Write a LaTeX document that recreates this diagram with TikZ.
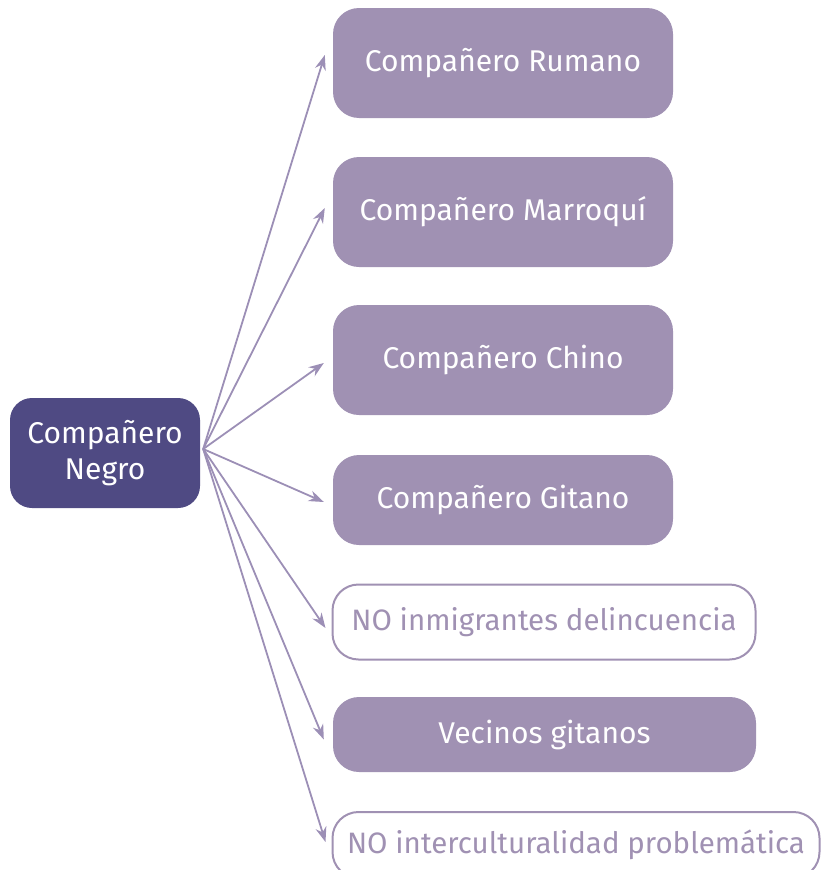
\documentclass[tikz,border=0pt]{standalone}
\usepackage{fontspec}
\setmainfont{Fira Sans}
\usetikzlibrary{arrows.meta,calc}
\definecolor{dark}{HTML}{4F4A83}
\definecolor{lav}{HTML}{A091B3}
\definecolor{lavline}{HTML}{9C8FB6}
\tikzset{
  srcbox/.style={draw=none,fill=dark,rounded corners=22pt,text=white,align=center,inner sep=0pt,font=\fontsize{30}{36}\selectfont},
  fullbox/.style={draw=none,fill=lav,rounded corners=26pt,text=white,inner sep=0pt,font=\fontsize{30}{36}\selectfont},
  emptybox/.style={draw=lav,line width=2pt,fill=white,rounded corners=26pt,text=lav,inner sep=0pt,font=\fontsize{29.5}{36}\selectfont},
  conn/.style={draw=lavline,line width=1.8pt,-{Stealth[length=15pt,width=11pt]}}
}
\begin{document}
\begin{tikzpicture}[x=1pt,y=-1pt]
\useasboundingbox (0,0) rectangle (821,870);
\begin{scope}
\clip (0,0) rectangle (821,870);
\node[srcbox,minimum width=190pt,minimum height=110pt] (src) at (105,453) {Compañero\\Negro};
\node[fullbox,minimum width=340pt,minimum height=110pt] (rum) at (503,63) {Compañero Rumano};
\node[fullbox,minimum width=340pt,minimum height=110pt] (mar) at (503,212) {Compañero Marroquí};
\node[fullbox,minimum width=340pt,minimum height=110pt] (chi) at (503,360) {Compañero Chino};
\node[fullbox,minimum width=340pt,minimum height=90pt] (git) at (503,500) {Compañero Gitano};
\node[emptybox,minimum width=423pt,minimum height=75pt] (noi) at (544,622) {NO inmigrantes delincuencia};
\node[fullbox,minimum width=423pt,minimum height=75pt] (vec) at (544.5,734.5) {Vecinos gitanos};
\node[emptybox,minimum width=487pt,minimum height=66pt] (noc) at (576,845) {NO interculturalidad problemática};
\end{scope}
\coordinate (hub) at ($(src.east)+(3,-4)$);
\draw[conn] (hub) -- ($(rum.west)+(-8,-8)$);
\draw[conn] (hub) -- ($(mar.west)+(-8,-4)$);
\draw[conn] (hub) -- ($(chi.west)+(-9,3)$);
\draw[conn] (hub) -- ($(git.west)+(-9,2)$);
\draw[conn] (hub) -- ($(noi.west)+(-6,6)$);
\draw[conn] (hub) -- ($(vec.west)+(-9,5)$);
\draw[conn] (hub) -- ($(noc.west)+(-6,-3)$);
\end{tikzpicture}
\end{document}
